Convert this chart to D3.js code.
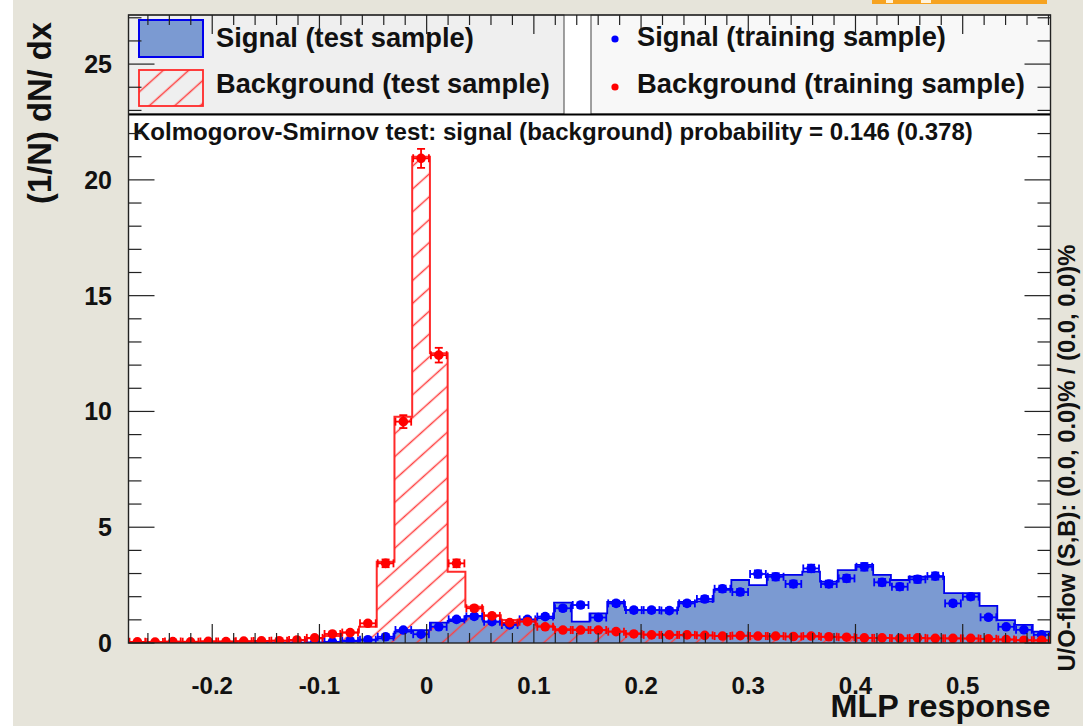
<!DOCTYPE html>
<html><head><meta charset="utf-8">
<script src="https://cdn.jsdelivr.net/npm/d3@7"></script>
<style>
body{margin:0;background:#e6e4da;}
svg{display:block;font-family:"Liberation Sans",Arial,Helvetica,sans-serif;font-weight:bold;}
</style>
</head><body><svg id="c" width="1083" height="726"></svg>
<script>
// ---------------- data ----------------
const xRange = [-0.2781, 0.5819];   // histogram / frame range
const nBins = 52;
const yMax = 27.12;
const signalTest = [0,0,0,0,0,0,0,0,0,0,0.02,0.05,0.08,0.15,0.2,0.49,0.56,0.88,0.95,1.17,0.92,0.85,0.99,1.07,1.74,0.92,1.28,1.78,1.42,1.42,1.42,1.78,1.8,2.3,2.72,2.5,2.94,2.94,3.08,2.65,3.15,3.37,2.94,2.72,2.86,2.86,2.15,2.15,1.6,0.99,0.78,0.49];
const signalTrain = [0,0,0,0,0,0,0,0,0,0.01,0.02,0.05,0.1,0.14,0.27,0.56,0.38,0.7,1.02,1.15,0.92,0.78,1.02,1.14,1.5,1.64,1.1,1.71,1.42,1.42,1.4,1.71,1.9,2.34,2.2,2.98,2.86,2.55,3.22,2.55,2.79,3.29,2.62,2.43,2.75,2.89,1.71,2.0,1.11,0.7,0.57,0.35];
const backgroundTest = [0.03,0.04,0.05,0.05,0.06,0.06,0.07,0.09,0.1,0.12,0.2,0.3,0.45,0.7,3.51,9.77,21.0,12.51,3.08,1.57,1.2,0.99,0.95,0.75,0.6,0.58,0.55,0.5,0.42,0.38,0.36,0.34,0.32,0.3,0.3,0.3,0.28,0.28,0.27,0.26,0.24,0.22,0.22,0.2,0.2,0.2,0.19,0.18,0.17,0.15,0.12,0.1];
const backgroundTrain = [0.05,0.04,0.06,0.05,0.07,0.06,0.08,0.09,0.1,0.13,0.22,0.39,0.45,0.85,3.44,9.56,20.93,12.43,3.44,1.5,1.17,0.88,0.92,0.7,0.56,0.56,0.56,0.49,0.39,0.35,0.35,0.35,0.33,0.3,0.32,0.3,0.3,0.28,0.3,0.27,0.25,0.22,0.22,0.2,0.22,0.2,0.2,0.2,0.18,0.15,0.12,0.12];
const errScale = 0.09; // Poisson-like error: errScale*sqrt(content)
const xTicks = [-0.2,-0.1,0,0.1,0.2,0.3,0.4,0.5];
const xTickLabels = ["-0.2","-0.1","0","0.1","0.2","0.3","0.4","0.5"];
const yTicks = [0,5,10,15,20,25];
const yTickLabels = ["0","5","10","15","20","25"];
const legendLeft = ["Signal (test sample)","Background (test sample)"];
const legendRight = ["Signal (training sample)","Background (training sample)"];
const ksText = "Kolmogorov-Smirnov test: signal (background) probability = 0.146 (0.378)";
const xTitle = "MLP response";
const yTitle = "(1/N) dN/ dx";
const flowText = "U/O-flow (S,B): (0.0, 0.0)% / (0.0, 0.0)%";

// ---------------- layout ----------------
const L = 128.5, R = 1050.5, T = 15, B = 643;
const sigFill = "#7b9ad2", sigLine = "#0000ee", bkgLine = "#ff2a2a", dotBlue = "#0000ff", dotRed = "#ff0000";

const svg = d3.select("#c");
const x = d3.scaleLinear().domain(xRange).range([L, R]);
const y = d3.scaleLinear().domain([0, yMax]).range([B, T]);
const bw = (xRange[1]-xRange[0])/nBins;
const edge = i => xRange[0] + i*bw;

const defs = svg.append("defs");
defs.append("clipPath").attr("id","frame").append("rect").attr("x",L).attr("y",T).attr("width",R-L).attr("height",B-T);
const pat = defs.append("pattern").attr("id","hatch").attr("patternUnits","userSpaceOnUse")
  .attr("width",17).attr("height",17).attr("patternTransform","rotate(-42)");
pat.append("line").attr("x1",0).attr("x2",17).attr("y1",8.5).attr("y2",8.5).attr("stroke","#ff4040").attr("stroke-width",1.5);

// background of canvas
svg.append("rect").attr("x",0).attr("y",0).attr("width",1083).attr("height",726).attr("fill","#e6e4da");
svg.append("rect").attr("x",0).attr("y",0).attr("width",13).attr("height",726).attr("fill","#ffffff");
// orange logo strip (cut off at top)
svg.append("rect").attr("x",872).attr("y",0).attr("width",175).attr("height",4).attr("fill","#f6a321");
svg.append("rect").attr("x",886).attr("y",0).attr("width",7).attr("height",3).attr("fill","#fff3dc");
svg.append("rect").attr("x",921).attr("y",0).attr("width",10).attr("height",3).attr("fill","#fff3dc");

// frame
svg.append("rect").attr("x",L).attr("y",T).attr("width",R-L).attr("height",B-T).attr("fill","#fff");

const plot = svg.append("g").attr("clip-path","url(#frame)");

function stepPoints(vals){
  const pts = [[x(edge(0)), y(0)]];
  vals.forEach((v,i)=>{ pts.push([x(edge(i)), y(v)]); pts.push([x(edge(i+1)), y(v)]); });
  pts.push([x(edge(vals.length)), y(0)]);
  return pts;
}
const line = d3.line();

// signal test: filled
plot.append("path").attr("d", line(stepPoints(signalTest))+"Z").attr("fill",sigFill).attr("stroke","none");
plot.append("path").attr("d", line(stepPoints(signalTest))).attr("fill","none").attr("stroke",sigLine).attr("stroke-width",1.8);
// background test: hatched
plot.append("path").attr("d", line(stepPoints(backgroundTest))+"Z").attr("fill","url(#hatch)").attr("stroke","none");
plot.append("path").attr("d", line(stepPoints(backgroundTest))).attr("fill","none").attr("stroke",bkgLine).attr("stroke-width",2);

// training points with error bars
function drawPoints(vals, color){
  const g = plot.append("g").attr("stroke",color).attr("stroke-width",1.8);
  vals.forEach((v,i)=>{
    if (v <= 0) return;
    const cx = x(edge(i)+bw/2), cy = y(v);
    const xl = x(edge(i)), xr = x(edge(i+1));
    const e = errScale*Math.sqrt(v);
    const yt = y(v+e), yb = y(v-e);
    const cap = 4;
    const seg = (x1,y1,x2,y2)=>g.append("line").attr("x1",x1).attr("y1",y1).attr("x2",x2).attr("y2",y2);
    seg(xl+1,cy,xr-1,cy);
    seg(xl+1,cy-cap,xl+1,cy+cap);
    seg(xr-1,cy-cap,xr-1,cy+cap);
    seg(cx,yt,cx,yb);
    seg(cx-cap,yt,cx+cap,yt);
    seg(cx-cap,yb,cx+cap,yb);
    g.append("circle").attr("cx",cx).attr("cy",cy).attr("r",4.8).attr("fill",color).attr("stroke","none");
  });
}
drawPoints(signalTrain, dotBlue);
drawPoints(backgroundTrain, dotRed);

// helper to fit text to a width
function fit(sel, width){
  const w = sel.node().getComputedTextLength();
  const fs = parseFloat(sel.attr("font-size"));
  sel.attr("font-size", (fs*width/w).toFixed(2));
  return sel;
}

// legends
svg.append("rect").attr("x",L).attr("y",T).attr("width",564-L).attr("height",114-T).attr("fill","#efefef").attr("stroke","#444").attr("stroke-width",1);
svg.append("rect").attr("x",591).attr("y",T).attr("width",R-591).attr("height",114-T).attr("fill","#f8f8f8").attr("stroke","#444").attr("stroke-width",1);
svg.append("line").attr("x1",L).attr("x2",R).attr("y1",114.5).attr("y2",114.5).attr("stroke","#000").attr("stroke-width",2);

svg.append("rect").attr("x",139).attr("y",20).attr("width",64).attr("height",37).attr("fill",sigFill).attr("stroke",sigLine).attr("stroke-width",2);
svg.append("rect").attr("x",139).attr("y",70).attr("width",64).attr("height",36).attr("fill","url(#hatch)").attr("stroke",bkgLine).attr("stroke-width",1.8);
fit(svg.append("text").attr("x",216).attr("y",47).attr("font-size",27).attr("fill","#111").text(legendLeft[0]), 258);
fit(svg.append("text").attr("x",216).attr("y",93).attr("font-size",27).attr("fill","#111").text(legendLeft[1]), 334);
svg.append("circle").attr("cx",615).attr("cy",39).attr("r",3.6).attr("fill",dotBlue);
svg.append("circle").attr("cx",615).attr("cy",87).attr("r",3.6).attr("fill",dotRed);
fit(svg.append("text").attr("x",637).attr("y",46).attr("font-size",27).attr("fill","#111").text(legendRight[0]), 309);
fit(svg.append("text").attr("x",637).attr("y",93).attr("font-size",27).attr("fill","#111").text(legendRight[1]), 388);

// KS text
fit(svg.append("text").attr("x",133).attr("y",140).attr("font-size",19).attr("fill","#111").text(ksText), 840);

// axes / ticks
const axis = svg.append("g").attr("stroke","#222").attr("stroke-width",1.2);
const xMinor = d3.range(-13,30).map(k=>k*0.02).filter(v=>v>=xRange[0]&&v<=xRange[1]);
xMinor.forEach(v=>{
  const isMaj = xTicks.some(t=>Math.abs(t-v)<1e-6);
  const len = isMaj ? 19 : 10;
  const px = x(v);
  axis.append("line").attr("x1",px).attr("x2",px).attr("y1",B).attr("y2",B-len);
  axis.append("line").attr("x1",px).attr("x2",px).attr("y1",T).attr("y2",T+len);
});
d3.range(0,28).forEach(v=>{
  if (v>yMax) return;
  const isMaj = v%5===0;
  const len = isMaj ? 26 : 13;
  const py = y(v);
  axis.append("line").attr("x1",L).attr("x2",L+len).attr("y1",py).attr("y2",py);
  axis.append("line").attr("x1",R).attr("x2",R-len).attr("y1",py).attr("y2",py);
});
svg.append("rect").attr("x",L).attr("y",T).attr("width",R-L).attr("height",B-T).attr("fill","none").attr("stroke","#222").attr("stroke-width",1.4);

// tick labels
const xt = svg.append("g").attr("font-size",24).attr("fill","#111").attr("text-anchor","middle");
xTicks.forEach((t,i)=>{ xt.append("text").attr("x",x(t)).attr("y",694).text(xTickLabels[i]); });
const yt = svg.append("g").attr("font-size",25).attr("fill","#111").attr("text-anchor","end");
yTicks.forEach((t,i)=>{ yt.append("text").attr("x",112).attr("y",y(t)+9).text(yTickLabels[i]); });

// titles
fit(svg.append("text").attr("x",R).attr("y",717).attr("text-anchor","end").attr("font-size",30).attr("fill","#111").text(xTitle), 220);
fit(svg.append("text").attr("transform","translate(51,22) rotate(-90)").attr("text-anchor","end").attr("font-size",32).attr("fill","#111").text(yTitle), 182);
fit(svg.append("text").attr("transform","translate(1075,458) rotate(-90)").attr("text-anchor","middle").attr("font-size",18).attr("fill","#111").text(flowText), 427);
</script>
</body></html>
